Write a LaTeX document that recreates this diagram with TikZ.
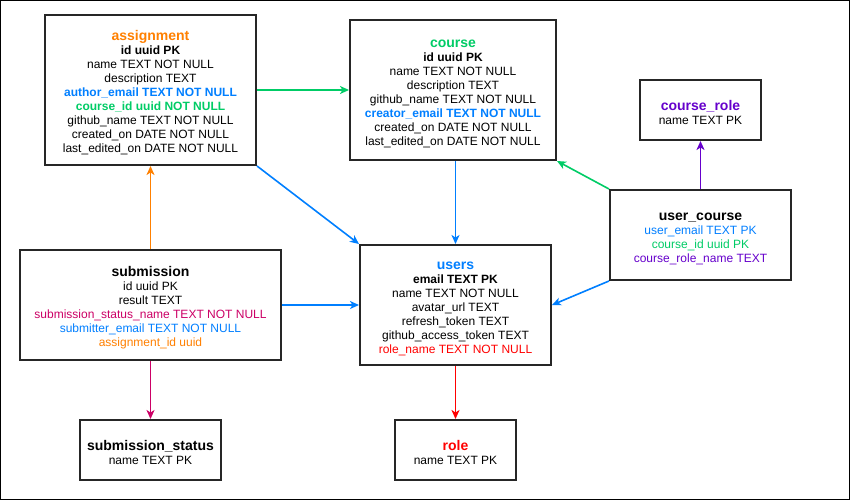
\documentclass[tikz,border=0pt]{standalone}
\usepackage{fontspec}
\setmainfont{Liberation Sans}
\usepackage{tikz}
\usetikzlibrary{arrows.meta}
\definecolor{fkorange}{HTML}{FF8000}
\definecolor{fkgreen}{HTML}{00CC66}
\definecolor{fkblue}{HTML}{007FFF}
\definecolor{fkmagenta}{HTML}{CC0066}
\definecolor{fkred}{HTML}{FF0000}
\definecolor{fkpurple}{HTML}{6600CC}
\newcommand{\tname}[1]{{\fontsize{14}{15}\selectfont\bfseries\rule{0pt}{15pt}#1}}
\tikzset{
  table/.style={draw=black!85,line width=2pt,fill=white,align=center,
    inner sep=0pt,font=\fontsize{12}{14}\selectfont},
  rel/.style={line width=1.6pt,-{Stealth[length=9pt,width=8pt,inset=2.5pt]}}
}

\begin{document}
\begin{tikzpicture}[x=1pt,y=-1pt]
  \useasboundingbox (0,0) rectangle (851,501);
  \draw[line width=1pt] (0.5,0.5) rectangle (849.5,499.5);

  % tables
  \node[table,minimum width=211pt,minimum height=150pt] (assignment) at (150.5,90) {%
    \tname{\color{fkorange}assignment}\\
    \textbf{id uuid PK}\\
    name TEXT NOT NULL\\
    description TEXT\\
    \textbf{\color{fkblue}author\_email TEXT NOT NULL}\\
    \textbf{\color{fkgreen}course\_id uuid NOT NULL}\\
    github\_name TEXT NOT NULL\\
    created\_on DATE NOT NULL\\
    last\_edited\_on DATE NOT NULL};
  \node[table,minimum width=206pt,minimum height=140pt] (course) at (453,90) {%
    \tname{\color{fkgreen}course}\\
    \textbf{id uuid PK}\\
    name TEXT NOT NULL\\
    description TEXT\\
    github\_name TEXT NOT NULL\\
    \textbf{\color{fkblue}creator\_email TEXT NOT NULL}\\
    created\_on DATE NOT NULL\\
    last\_edited\_on DATE NOT NULL};
  \node[table,minimum width=121pt,minimum height=60pt] (course_role) at (700.5,110) {%
    \tname{\color{fkpurple}course\_role}\\
    name TEXT PK};
  \node[table,minimum width=181pt,minimum height=90pt] (user_course) at (700.5,235) {%
    \tname{user\_course}\\
    {\color{fkblue}user\_email TEXT PK}\\
    {\color{fkgreen}course\_id uuid PK}\\
    {\color{fkpurple}course\_role\_name TEXT}};
  \node[table,minimum width=261pt,minimum height=110pt] (submission) at (150.5,305) {%
    \tname{submission}\\
    id uuid PK\\
    result TEXT\\
    {\color{fkmagenta}submission\_status\_name TEXT NOT NULL}\\
    {\color{fkblue}submitter\_email TEXT NOT NULL}\\
    {\color{fkorange}assignment\_id uuid}};
  \node[table,minimum width=191pt,minimum height=120pt] (users) at (455.5,305) {%
    \tname{\color{fkblue}users}\\
    \textbf{email TEXT PK}\\
    name TEXT NOT NULL\\
    avatar\_url TEXT\\
    refresh\_token TEXT\\
    github\_access\_token TEXT\\
    {\color{fkred}role\_name TEXT NOT NULL}};
  \node[table,minimum width=141pt,minimum height=60pt] (submission_status) at (150.5,450) {%
    \tname{submission\_status}\\
    name TEXT PK};
  \node[table,minimum width=121pt,minimum height=60pt] (role) at (455.5,450) {%
    \tname{\color{fkred}role}\\
    name TEXT PK};

  % foreign keys
  \draw[rel,fkgreen] (assignment.east) -- (course.west);
  \draw[rel,fkblue] (assignment.south east) -- (users.north west);
  \draw[rel,fkblue] (course.south -| users.north) -- (users.north);
  \draw[rel,fkgreen] (user_course.north west) -- (course.south east);
  \draw[rel,fkpurple] (user_course.north) -- (course_role.south);
  \draw[rel,fkblue] (user_course.south west) -- (users.east);
  \draw[rel,fkorange] (submission.north) -- (assignment.south);
  \draw[rel,fkblue] (submission.east) -- (users.west);
  \draw[rel,fkmagenta] (submission.south) -- (submission_status.north);
  \draw[rel,fkred] (users.south) -- (role.north);
\end{tikzpicture}
\end{document}
